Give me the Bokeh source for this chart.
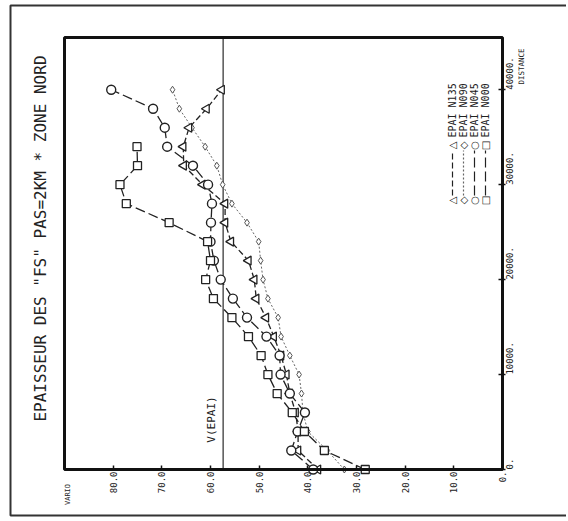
import math
from bokeh.plotting import figure
from bokeh.models import Range1d, FixedTicker, LinearAxis, Label, BoxAnnotation, Arrow
from bokeh.embed import file_html
from bokeh.resources import INLINE

# ---- data ----
distance = [0, 2000, 4000, 6000, 8000, 10000, 12000, 14000, 16000, 18000, 20000,
            22000, 24000, 26000, 28000, 30000, 32000, 34000, 36000, 38000, 40000]

dist_n000 = distance[:18]
epai_n000 = [28.2, 36.6, 40.7, 43.2, 46.3, 48.2, 49.6, 52.2, 55.6, 59.4, 61.0,
             60.0, 60.6, 68.5, 77.3, 78.6, 75.0, 75.1]
epai_n045 = [38.9, 43.4, 42.1, 40.6, 43.7, 45.6, 45.8, 48.5, 52.5, 55.4, 57.9,
             59.3, 60.0, 59.9, 59.7, 60.5, 63.6, 68.9, 69.4, 71.8, 80.4]
epai_n090 = [32.5, 36.0, 40.0, 41.0, 41.3, 41.8, 43.7, 45.5, 46.1, 48.2, 49.2,
             49.7, 50.1, 52.5, 55.6, 57.5, 58.7, 61.1, 63.8, 66.4, 67.8]
epai_n135 = [37.9, 42.0, 42.0, 42.5, 43.7, 44.4, 45.5, 47.0, 48.6, 50.6, 51.0,
             52.2, 55.8, 57.0, 57.0, 61.6, 65.5, 65.6, 64.4, 60.8, 57.7]
v_epai = 57.4

vario_min, vario_max = 0, 90
dist_min, dist_max = 0, 45500
vario_ticks = [0, 10, 20, 30, 40, 50, 60, 70, 80]
vario_tick_labels = ["0.", "10.0", "20.0", "30.0", "40.0", "50.0", "60.0", "70.0", "80.0"]
dist_ticks = [0, 10000, 20000, 30000, 40000]
dist_tick_labels = ["0.", "10000.", "20000.", "30000.", "40000."]

series_names = ["EPAI N135", "EPAI N090", "EPAI N045", "EPAI N000"]
title_text = 'EPAISSEUR DES "FS" PAS=2KM * ZONE NORD'

FONT = "DejaVu Sans Mono"
INK = "#222222"

W, H = 566, 519
# plot box inside the canvas (pixels from top-left)
BOX_L, BOX_R, BOX_T, BOX_B = 64, 502, 37, 469
xs = (BOX_R - BOX_L) / (vario_max - vario_min)
ys = (BOX_B - BOX_T) / (dist_max - dist_min)
x_range = Range1d(vario_max + BOX_L / xs, vario_min - (W - BOX_R) / xs)
y_range = Range1d(dist_min - (H - BOX_B) / ys, dist_max + BOX_T / ys)

p = figure(width=W, height=H, x_range=x_range, y_range=y_range,
           output_backend="svg", toolbar_location=None,
           x_axis_location=None, y_axis_location=None, min_border=0)
p.outline_line_color = None
p.background_fill_color = "white"
p.border_fill_color = "white"
p.grid.visible = False

# outer sheet border (left, top, bottom; right edge is off the page)
p.add_layout(BoxAnnotation(left=10, right=W + 20, top=H - 5, bottom=H - 515,
                           left_units="screen", right_units="screen",
                           top_units="screen", bottom_units="screen",
                           fill_color=None, line_color="#333333", line_alpha=1.0,
                           line_width=2))

# plot box
p.add_layout(BoxAnnotation(left=vario_max, right=vario_min, bottom=dist_min, top=dist_max,
                           fill_color=None, line_color="#111111", line_alpha=1.0,
                           line_width=3))

xa = LinearAxis(ticker=FixedTicker(ticks=vario_ticks), fixed_location=dist_min,
                major_label_overrides=dict(zip(vario_ticks, vario_tick_labels)),
                major_label_orientation=math.pi / 2)
ya = LinearAxis(ticker=FixedTicker(ticks=dist_ticks), fixed_location=vario_min,
                major_label_overrides=dict(zip(dist_ticks, dist_tick_labels)),
                major_label_orientation=math.pi / 2)
for ax in (xa, ya):
    ax.axis_line_color = None
    ax.major_tick_line_color = "#111111"
    ax.major_tick_line_width = 1.5
    ax.minor_tick_line_color = None
    ax.major_label_text_font = FONT
    ax.major_label_text_font_size = "9px"
    ax.major_label_text_color = INK
xa.major_tick_in = 4
xa.major_tick_out = 0
xa.major_label_standoff = 2
ya.major_tick_in = 4
ya.major_tick_out = 3
ya.major_label_standoff = 4
p.add_layout(xa, "below")
p.add_layout(ya, "right")

# reference line V(EPAI), limited to the plot box
p.segment(x0=[v_epai], y0=[dist_min], x1=[v_epai], y1=[dist_max],
          line_color="#555555", line_width=1.5)

# series
p.line(epai_n090, distance, line_color="#666666", line_width=1, line_dash="2 2")
p.scatter(epai_n090, distance, marker="diamond", size=7, fill_color="white",
          line_color="#555555", line_width=1)

p.line(epai_n135, distance, line_color=INK, line_width=1.3, line_dash="6 3")
p.scatter(epai_n135, distance, marker="triangle", angle=math.pi / 2, size=9,
          fill_color="white", line_color=INK, line_width=1.3)

p.line(epai_n045, distance, line_color=INK, line_width=1.3, line_dash="10 4")
p.scatter(epai_n045, distance, marker="circle", size=9, fill_color="white",
          line_color=INK, line_width=1.4)

p.line(epai_n000, dist_n000, line_color=INK, line_width=1.3, line_dash="10 4")
p.scatter(epai_n000, dist_n000, marker="square", size=8, fill_color="white",
          line_color=INK, line_width=1.3)

# texts (screen units: from canvas left / canvas bottom)
def lab(text, x, y, size, align="center", xu="screen", yu="screen", x_offset=0,
        font=FONT, color=INK):
    p.add_layout(Label(text=text, x=x, y=y, x_units=xu, y_units=yu, x_offset=x_offset,
                       angle=math.pi / 2, text_align=align, text_baseline="middle",
                       text_font=font, text_font_size=size, text_color=color))

lab(title_text, 40, H - 238, "16px")
lab("VARIO", 67, H - 494, "7px")
lab("DISTANCE", 521, H - 66, "7.5px")
lab("V(EPAI)", v_epai, H - 419, "11px", xu="data", x_offset=-12)

# legend (rotated, drawn with annotations)
legend_markers = ["\u25b3", "\u25c7", "\u25cb", "\u25a1"]
legend_dash = ["6 3", "2 2", "10 4", "10 4"]
legend_color = [INK, "#666666", INK, INK]
legend_x = [452, 463, 474, 485]
for name, mk, dash, col, lx in zip(series_names, legend_markers, legend_dash, legend_color, legend_x):
    p.add_layout(Arrow(end=None, x_start=lx, y_start=H - 195, x_end=lx, y_end=H - 150,
                       start_units="screen", end_units="screen",
                       line_color=col, line_width=1.2, line_dash=dash))
    lab(mk, lx, H - 200, "10px", font="DejaVu Sans")
    lab(mk, lx, H - 145, "10px", font="DejaVu Sans")
    lab(name.replace(" ", "   "), lx, H - 137, "10px", align="left")

open("out.html", "w").write(file_html(p, INLINE))
